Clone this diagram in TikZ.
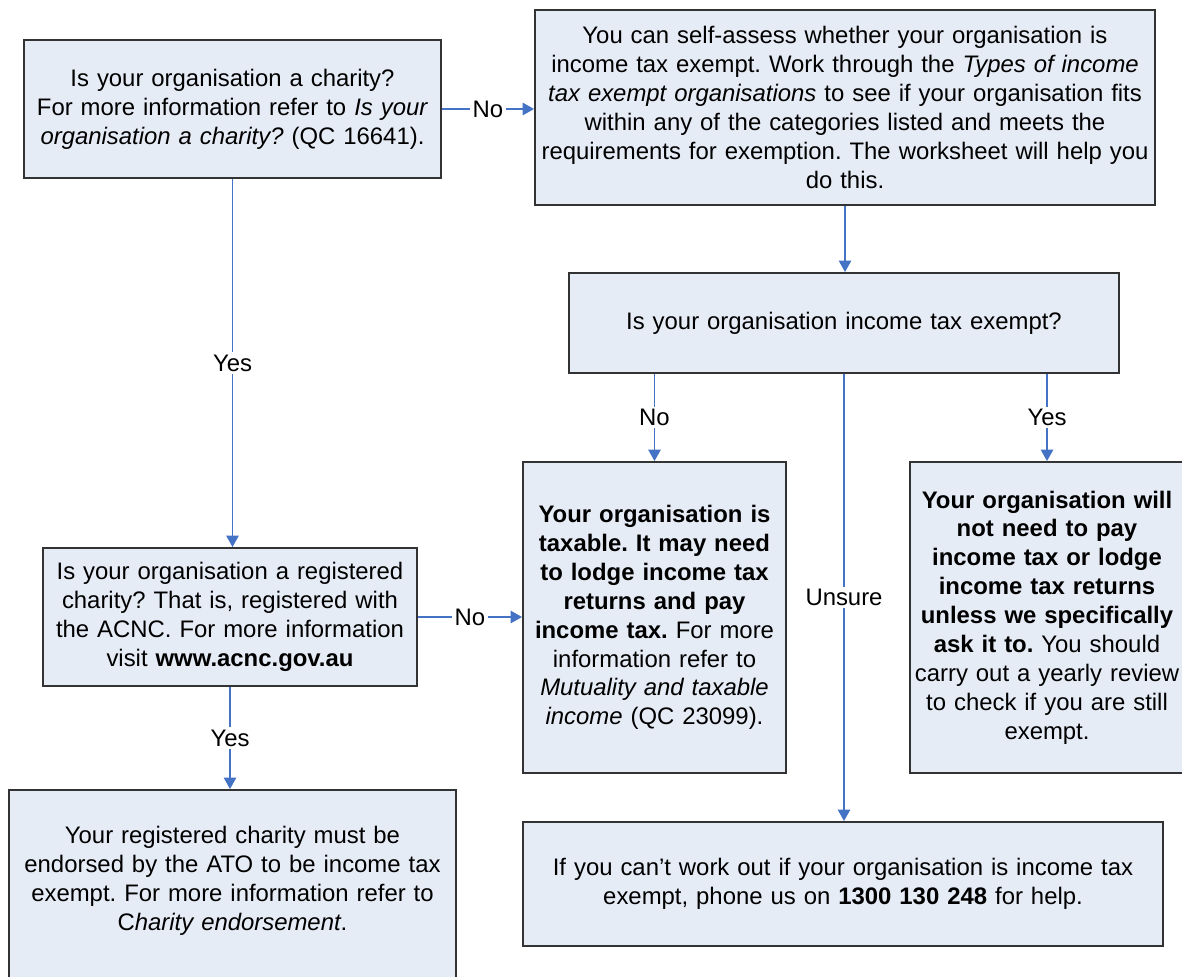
\documentclass[tikz,border=0pt]{standalone}
\usepackage{fontspec}
\setmainfont{Liberation Sans}
\usetikzlibrary{arrows.meta}

\definecolor{boxfill}{HTML}{E6ECF6}
\definecolor{flowblue}{HTML}{4472C4}
\definecolor{boxline}{HTML}{333333}

\frenchspacing

\begin{document}
\begin{tikzpicture}[x=0.02cm, y=-0.02cm]
    \tikzset{>={Triangle[length=6.5pt,width=7pt]}}
    \tikzset{box/.style={draw=boxline, line width=1.1pt, fill=boxfill, align=center,
        inner sep=0pt, font=\fontsize{13.6}{16.45}\selectfont}}
    \tikzset{flow/.style={->, draw=flowblue, line width=1pt}}
    \tikzset{answer/.style={fill=white, inner sep=1.5pt, font=\fontsize{13.6}{16.45}\selectfont}}

    % Fix the page
    \useasboundingbox (0, 0) rectangle (1182, 976);
    \clip (0, 0) rectangle (1182, 976);

    % Draw the questions
    \node[box, minimum width=8.34cm, minimum height=2.76cm, text width=8.26cm] (charity) at (232.5, 109)
        {Is your organisation a charity?\\ For more information refer to \textit{Is your}\\
         \textit{organisation a charity?} (QC 16641).};
    \node[box, minimum width=12.4cm, minimum height=3.9cm, text width=12.32cm] (selfassess) at (845, 107.5)
        {You can self-assess whether your organisation is\\
         income tax exempt. Work through the \textit{Types of income}\\
         \textit{tax exempt organisations} to see if your organisation fits\\
         within any of the categories listed and meets the\\
         requirements for exemption. The worksheet will help you\\ do this.};
    \node[box, minimum width=11cm, minimum height=2cm, text width=10.9cm] (exempt) at (844, 323)
        {Is your organisation income tax exempt?};
    \node[box, minimum width=7.48cm, minimum height=2.76cm, text width=7.4cm] (registered) at (230, 617)
        {Is your organisation a registered\\ charity? That is, registered with\\
         the ACNC. For more information\\ visit \textbf{www.acnc.gov.au}};

    % Draw the outcomes
    \node[box, minimum width=5.26cm, minimum height=6.22cm, text width=5.18cm] (taxable) at (654.5, 617.5)
        {\textbf{Your organisation is}\\ \textbf{taxable. It may need}\\ \textbf{to lodge income tax}\\
         \textbf{returns and pay}\\ \textbf{income tax.} For more\\ information refer to\\
         \textit{Mutuality and taxable}\\ \textit{income} (QC 23099).};
    \node[box, minimum width=5.48cm, minimum height=6.22cm, text width=5.4cm] (notneed) at (1047, 617.5)
        {\textbf{Your organisation will}\\ \textbf{not need to pay}\\ \textbf{income tax or lodge}\\
         \textbf{income tax returns}\\ \textbf{unless we specifically}\\ \textbf{ask it to.} You should\\
         carry out a yearly review\\ to check if you are still\\ exempt.};
    % runs off the bottom of the page
    \node[box, minimum width=8.94cm, minimum height=4.28cm, text width=8.86cm] (endorse) at (232.5, 897)
        {Your registered charity must be\\ endorsed by the ATO to be income tax\\
         exempt. For more information refer to\\ C\textit{harity endorsement}.\\ \strut};
    \node[box, minimum width=12.8cm, minimum height=2.48cm, text width=12.7cm] (unsure) at (843, 884)
        {If you can't work out if your organisation is income tax\\
         exempt, phone us on \textbf{1300 130 248} for help.};

    % Draw the connectors
    \draw[flow] (charity.east) -- (charity.east -| selfassess.west) node[answer, midway] {No};
    \draw[flow] (charity.south) -- (charity.south |- registered.north) node[answer, midway] {Yes};
    \draw[flow] (selfassess.south) -- (selfassess.south |- exempt.north);
    \draw[flow] (taxable.north |- exempt.south) -- (taxable.north) node[answer, midway] {No};
    \draw[flow] (notneed.north |- exempt.south) -- (notneed.north) node[answer, midway] {Yes};
    \draw[flow] (exempt.south) -- (exempt.south |- unsure.north) node[answer, midway] {Unsure};
    \draw[flow] (registered.east) -- (registered.east -| taxable.west) node[answer, midway] {No};
    \draw[flow] (registered.south) -- (registered.south |- endorse.north) node[answer, midway] {Yes};
\end{tikzpicture}
\end{document}
